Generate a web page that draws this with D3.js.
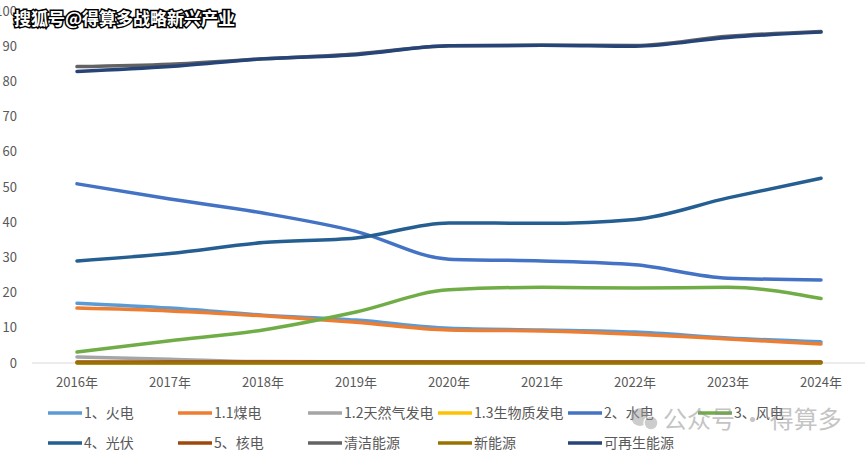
<!DOCTYPE html>
<html>
<head>
<meta charset="utf-8">
<script src="https://cdn.jsdelivr.net/npm/d3@7"></script>
<style>
  body { margin: 0; background: #fff; }
  svg { display: block; font-family: "Noto Sans CJK SC", "Microsoft YaHei", sans-serif; }
</style>
</head>
<body>
<svg id="chart"></svg>
<script>
// Chart size
const width = 865;
const height = 453;

// Data
const years = ["2016年", "2017年", "2018年", "2019年", "2020年", "2021年", "2022年", "2023年", "2024年"];
const yTicks = [0, 10, 20, 30, 40, 50, 60, 70, 80, 90, 100];

const thermal = [17.0, 15.6, 13.6, 12.2, 9.9, 9.4, 8.8, 7.1, 6.0];
const coal = [15.6, 14.8, 13.4, 11.6, 9.4, 9.1, 8.2, 6.8, 5.4];
const gas = [1.7, 1.1, 0.4, 0.3, 0.2, 0.2, 0.2, 0.2, 0.2];
const biomass = [0.1, 0.1, 0.1, 0.1, 0.1, 0.1, 0.1, 0.1, 0.1];
const hydro = [50.9, 46.6, 42.6, 37.4, 29.5, 29.0, 27.9, 24.1, 23.6];
const wind = [3.1, 6.3, 9.4, 14.5, 20.8, 21.5, 21.3, 21.5, 18.3];
const solar = [29.0, 31.1, 34.2, 35.5, 39.8, 39.7, 40.8, 46.9, 52.5];
const nuclear = [0.3, 0.3, 0.3, 0.3, 0.3, 0.3, 0.3, 0.3, 0.3];
const clean = [84.2, 84.9, 86.4, 87.8, 90.1, 90.3, 90.2, 92.8, 94.2];
const newEnergy = [0, 0, 0, 0, 0, 0, 0, 0, 0];
const renewable = [82.8, 84.2, 86.4, 87.6, 90.1, 90.3, 90.0, 92.5, 94.0];

const seriesNames = ["1、火电", "1.1煤电", "1.2天然气发电", "1.3生物质发电", "2、水电", "3、风电",
  "4、光伏", "5、核电", "清洁能源", "新能源", "可再生能源"];
const seriesValues = [thermal, coal, gas, biomass, hydro, wind, solar, nuclear, clean, newEnergy, renewable];
const seriesColors = ["#5B9BD5", "#ED7D31", "#A5A5A5", "#FFC000", "#4472C4", "#70AD47",
  "#255E91", "#9E480E", "#636363", "#997300", "#264478"];

const series = seriesNames.map((name, i) => ({name, values: seriesValues[i], color: seriesColors[i]}));

const svg = d3.select("#chart")
  .attr("width", width)
  .attr("height", height);

// Scales
const x = d3.scalePoint()
  .domain(years)
  .range([30.5, 867.5])
  .padding(0.5);

const y = d3.scaleLinear()
  .domain([0, 100])
  .range([363, 11]);

// Y axis labels
svg.append("g")
  .selectAll("text")
  .data(yTicks)
  .enter()
  .append("text")
  .attr("x", 17)
  .attr("y", d => y(d))
  .attr("dy", "0.35em")
  .attr("text-anchor", "end")
  .attr("font-size", 13)
  .attr("fill", "#595959")
  .text(d => d);

// X axis line and labels
svg.append("line")
  .attr("x1", 32).attr("x2", 865)
  .attr("y1", y(0)).attr("y2", y(0))
  .attr("stroke", "#d9d9d9")
  .attr("stroke-width", 1);

svg.append("g")
  .selectAll("text")
  .data(years)
  .enter()
  .append("text")
  .attr("x", d => x(d))
  .attr("y", 387)
  .attr("text-anchor", "middle")
  .attr("font-size", 13)
  .attr("fill", "#595959")
  .text(d => d);

// Lines
const line = d3.line()
  .x((d, i) => x(years[i]))
  .y(d => y(d))
  .curve(d3.curveMonotoneX);

svg.append("g")
  .selectAll("path")
  .data(series)
  .enter()
  .append("path")
  .attr("d", d => line(d.values))
  .attr("fill", "none")
  .attr("stroke", d => d.color)
  .attr("stroke-width", 3.5)
  .attr("stroke-linecap", "round")
  .attr("stroke-linejoin", "round");

// Legend
const legend = svg.append("g")
  .selectAll("g")
  .data(series)
  .enter()
  .append("g")
  .attr("transform", (d, i) => `translate(${48 + (i % 6) * 130}, ${i < 6 ? 413 : 443})`);

legend.append("line")
  .attr("x1", 0).attr("x2", 34)
  .attr("y1", 0).attr("y2", 0)
  .attr("stroke", d => d.color)
  .attr("stroke-width", 3.5);

legend.append("text")
  .attr("x", 36)
  .attr("dy", "0.35em")
  .attr("font-size", 14)
  .attr("fill", "#595959")
  .text(d => d.name);

// Watermarks
const wm = svg.append("g").attr("opacity", 0.5);
wm.append("circle").attr("cx", 640).attr("cy", 417).attr("r", 9).attr("fill", "#9a9a9a");
wm.append("circle").attr("cx", 651).attr("cy", 423).attr("r", 7).attr("fill", "#9a9a9a").attr("stroke", "#fff").attr("stroke-width", 1.5);
wm.append("text")
  .attr("x", 663)
  .attr("y", 428)
  .attr("font-size", 24)
  .attr("fill", "#8a8a8a")
  .text("公众号 · 得算多");

svg.append("text")
  .attr("x", 14)
  .attr("y", 25)
  .attr("font-size", 17)
  .attr("font-weight", "bold")
  .attr("fill", "#fff")
  .attr("stroke", "#000")
  .attr("stroke-width", 3)
  .attr("paint-order", "stroke")
  .text("搜狐号@得算多战略新兴产业");
</script>
</body>
</html>
